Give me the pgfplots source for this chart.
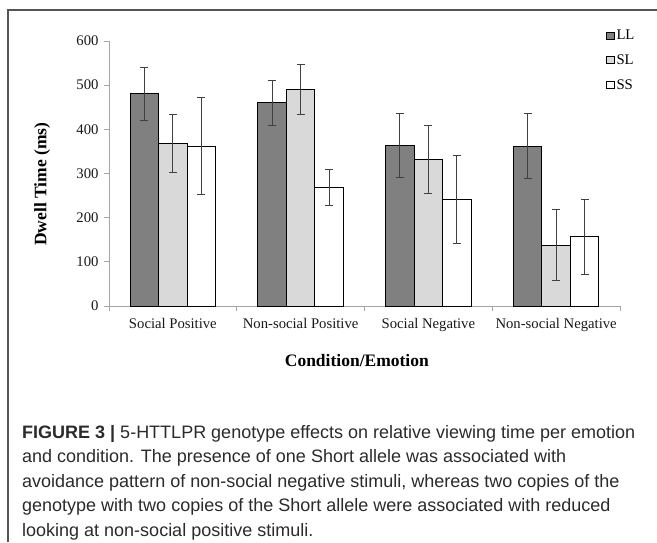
\documentclass[border=0pt]{standalone}
\usepackage{fontspec}
\setmainfont{Liberation Serif}
\newfontfamily\capfont{Liberation Sans}
\usepackage{pgfplots}
\usepackage{pgfplotstable}
\pgfplotsset{compat=1.18}
\definecolor{llc}{HTML}{808080}
\definecolor{slc}{HTML}{D9D9D9}
\definecolor{axc}{HTML}{A6A6A6}
\definecolor{framec}{HTML}{555555}
\definecolor{errc}{HTML}{404040}
\definecolor{capc}{HTML}{2B2B2B}

\pgfplotstableread{
x y e
0 480.5 60.5
1 460 51
2 363 72.5
3 362 73
}\LLdata
\pgfplotstableread{
x y e
0 368 65
1 490 57
2 332 77
3 138 81
}\SLdata
\pgfplotstableread{
x y e
0 362 110
1 268 41
2 241 100
3 157 85
}\SSdata

\begin{document}
\begin{tikzpicture}[x=1pt,y=1pt]
\useasboundingbox (0,0) rectangle (657,542);
\fill[white] (0,0) rectangle (657,542);
\draw[framec, line width=1.4pt] (8,0) -- (8,532) -- (657,532);
\begin{axis}[
  at={(109pt,236pt)}, anchor=south west,
  width=511pt, height=265pt, scale only axis,
  ybar=0pt, bar width=28.5pt,
  xmin=-0.5, xmax=3.5, ymin=0, ymax=600,
  axis lines*=left,
  axis line style={axc, line width=0.9pt},
  ytick={0,100,...,600},
  xtick={0,1,2,3},
  xticklabels={Social Positive, Non-social Positive, Social Negative, Non-social Negative},
  minor xtick={-0.5,0.5,1.5,2.5,3.5},
  major x tick style={draw=none},
  tick style={axc, line width=0.9pt},
  minor tick style={axc, line width=0.9pt},
  tick align=outside,
  major tick length=5pt, minor tick length=5pt,
  ticklabel style={font=\fontsize{14.7}{16}\selectfont, text=black!90},
  /pgf/number format/assume math mode=true,
  xticklabel style={yshift=-4pt},
  yticklabel style={xshift=-2pt},
  xlabel={Condition/Emotion},
  ylabel={Dwell Time (ms)},
  xlabel style={font=\bfseries\fontsize{17.5}{19}\selectfont, at={(axis description cs:0.485,-0.2075)}, anchor=center},
  ylabel style={font=\bfseries\fontsize{17.5}{19}\selectfont, at={(axis description cs:-0.131,0.46)}, anchor=center, rotate=0},
  legend style={at={(axis description cs:0.973,1.05)}, anchor=north west, draw=none, fill=none,
    font=\fontsize{14.7}{16}\selectfont, row sep=9.5pt, inner sep=0pt},
  legend cell align=left,
  legend image code/.code={\draw[#1, line width=0.7pt] (0pt,-3.6pt) rectangle (7.4pt,3.6pt);},
  error bars/y dir=both, error bars/y explicit,
  error bars/error mark=|,
  error bars/error bar style={errc, line width=0.8pt},
  error bars/error mark options={errc, line width=0.8pt, mark size=4pt},
  clip=false,
]
\addplot[fill=llc, draw=black, line width=0.9pt]
  table[x=x, y=y, y error=e] {\LLdata};
\addlegendentry{LL}
\addplot[fill=slc, draw=black, line width=0.9pt]
  table[x=x, y=y, y error=e] {\SLdata};
\addlegendentry{SL}
\addplot[fill=white, draw=black, line width=0.9pt]
  table[x=x, y=y, y error=e] {\SSdata};
\addlegendentry{SS}
\end{axis}
\begin{scope}[every node/.style={anchor=base west, inner sep=0pt, text=capc, font=\capfont\fontsize{18}{20}\selectfont}]
\node at (22,104) {\textbf{FIGURE 3 |} 5-HTTLPR genotype effects on relative viewing time per emotion};
\node at (22,79.5) {and condition. The presence of one Short allele was associated with};
\node at (22,55) {avoidance pattern of non-social negative stimuli, whereas two copies of the};
\node at (22,30.5) {genotype with two copies of the Short allele were associated with reduced};
\node at (22,6) {looking at non-social positive stimuli.};
\end{scope}
\end{tikzpicture}
\end{document}
